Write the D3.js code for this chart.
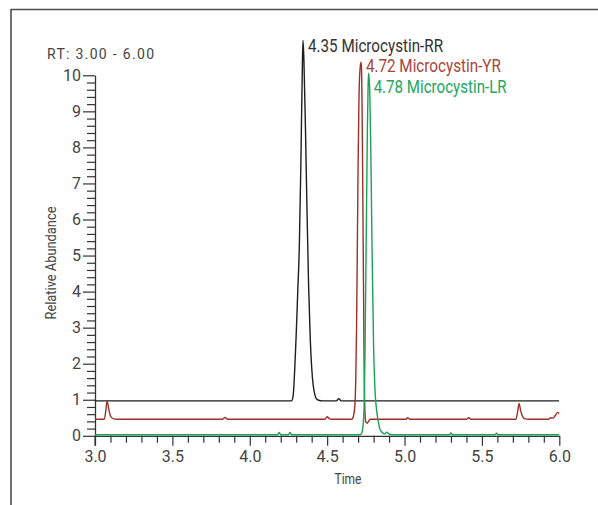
<!DOCTYPE html>
<html><head><meta charset="utf-8">
<script src="https://cdn.jsdelivr.net/npm/d3@7/dist/d3.min.js"></script>
<style>
html,body{margin:0;padding:0;background:#fff;}
svg{display:block;}
text{font-family:Roboto,"Liberation Sans",sans-serif;}
</style></head>
<body>
<svg id="chart" width="598" height="505"></svg>
<script>
// ---- data (time in min, relative abundance with display offsets) ----
const blackTrace = [
  [3.00,0.97],[4.27,0.97],[4.28,1.1],[4.29,1.8],[4.30,2.8],[4.31,4.0],[4.32,5.2],[4.33,7.5],
  [4.34,10.3],[4.344,10.97],[4.35,10.4],[4.36,8.5],[4.37,6.2],[4.38,4.2],[4.39,2.8],[4.40,1.9],
  [4.41,1.4],[4.42,1.15],[4.43,1.03],[4.45,0.98],[4.47,0.97],[4.56,0.97],[4.575,1.03],[4.59,0.97],
  [6.00,0.97]
];
const redTrace = [
  [3.00,0.46],[3.06,0.46],[3.07,0.7],[3.078,0.97],[3.09,0.72],[3.10,0.55],[3.12,0.47],[3.14,0.46],
  [3.825,0.46],[3.84,0.51],[3.855,0.46],[4.485,0.46],[4.50,0.53],[4.515,0.47],[4.53,0.46],
  [4.66,0.46],[4.67,0.55],[4.68,0.9],[4.685,1.6],[4.69,3.0],[4.695,5.2],[4.70,7.5],[4.705,9.2],
  [4.71,10.0],[4.718,10.36],[4.722,10.2],[4.726,9.0],[4.73,7.0],[4.733,5.2],[4.737,3.0],[4.74,1.5],
  [4.745,0.6],[4.75,0.38],[4.76,0.35],[4.77,0.42],[4.78,0.46],
  [5.01,0.46],[5.02,0.5],[5.035,0.46],[5.40,0.46],[5.415,0.5],[5.43,0.46],
  [5.72,0.46],[5.73,0.65],[5.74,0.9],[5.75,0.7],[5.765,0.52],[5.78,0.47],[5.80,0.46],
  [5.93,0.46],[5.945,0.5],[5.96,0.49],[5.975,0.57],[5.99,0.65],[6.00,0.6]
];
const greenTrace = [
  [3.00,0.03],[4.18,0.03],[4.19,0.09],[4.20,0.03],[4.25,0.03],[4.26,0.09],[4.27,0.03],
  [4.71,0.03],[4.72,0.05],[4.73,0.2],[4.74,1.0],[4.745,2.5],[4.75,4.5],[4.755,6.5],[4.76,8.5],
  [4.765,9.8],[4.768,10.06],[4.775,9.6],[4.78,8.5],[4.785,7.0],[4.79,5.2],[4.80,2.5],[4.81,1.2],
  [4.82,0.7],[4.83,0.4],[4.84,0.2],[4.85,0.12],[4.86,0.08],[4.87,0.05],[4.885,0.1],[4.90,0.05],
  [4.92,0.03],[5.29,0.03],[5.30,0.08],[5.31,0.03],[5.585,0.03],[5.595,0.07],[5.605,0.03],[6.00,0.03]
];
const xMajorTicks = [3.0,3.5,4.0,4.5,5.0,5.5,6.0];
const yMajorTicks = [0,1,2,3,4,5,6,7,8,9,10];
const peakLabels = ["4.35 Microcystin-RR","4.72 Microcystin-YR","4.78 Microcystin-LR"];
const peakTimes = [4.344,4.718,4.768];
const rangeLabel = "RT: 3.00 - 6.00";
const xTitle = "Time";
const yTitle = "Relative Abundance";

const colors = {black:"#1e1e1e", red:"#9c2f27", green:"#1aa157"};
const labelColors = ["#333333","#a8453b","#22a65e"];

const svg = d3.select("#chart");
const x = d3.scaleLinear().domain([3,6]).range([95,559.3]);
const y = d3.scaleLinear().domain([0,10]).range([435.8,75.3]);

// frame
svg.append("line").attr("x1",11).attr("x2",598).attr("y1",9.5).attr("y2",9.5)
  .attr("stroke","#4d4d4d").attr("stroke-width",1.6);
svg.append("line").attr("x1",11).attr("x2",11).attr("y1",9).attr("y2",505)
  .attr("stroke","#4d4d4d").attr("stroke-width",1.6);

const axisColor = "#333";
const xMinor = d3.range(30,61).map(d=>d/10).filter(d=>Math.abs(d*2-Math.round(d*2))>1e-6);
const gxMinor = svg.append("g").attr("transform",`translate(0,${y(0)})`)
  .call(d3.axisBottom(x).tickValues(xMinor).tickSize(7).tickFormat(""));
const gx = svg.append("g").attr("transform",`translate(0,${y(0)})`)
  .call(d3.axisBottom(x).tickValues(xMajorTicks).tickSize(10).tickSizeOuter(0).tickPadding(5).tickFormat(d3.format(".1f")));
const yMinor = d3.range(0,101,2).map(d=>d/10).filter(d=>Math.abs(d-Math.round(d))>1e-6);
const gyMinor = svg.append("g").attr("transform",`translate(${x(3)},0)`)
  .call(d3.axisLeft(y).tickValues(yMinor).tickSize(8).tickFormat(""));
const gy = svg.append("g").attr("transform",`translate(${x(3)},0)`)
  .call(d3.axisLeft(y).tickValues(yMajorTicks).tickSize(12).tickSizeOuter(0).tickPadding(2).tickFormat(d3.format("d")));
[gxMinor,gx,gyMinor,gy].forEach(g=>{
  g.attr("font-family",null).attr("font-size",null);
  g.select(".domain").attr("stroke",axisColor).attr("stroke-width",1.3);
  g.selectAll(".tick line").attr("stroke",axisColor).attr("stroke-width",1.2);
  g.selectAll(".tick text").attr("fill","#444").attr("font-size","16px");
});
gxMinor.select(".domain").remove();
gyMinor.select(".domain").remove();
svg.append("line").attr("x1",x(3)).attr("x2",x(3)).attr("y1",y(0)).attr("y2",y(0)+10)
  .attr("stroke",axisColor).attr("stroke-width",1.2);

// traces
const line = d3.line().x(d=>x(d[0])).y(d=>y(d[1])).curve(d3.curveMonotoneX);
svg.append("clipPath").attr("id","plotclip").append("rect")
  .attr("x",x(3)).attr("y",20).attr("width",x(6)-x(3)).attr("height",y(0)+2-20);
[[blackTrace,colors.black],[redTrace,colors.red],[greenTrace,colors.green]].forEach(([data,c])=>{
  svg.append("path").datum(data).attr("d",line).attr("fill","none")
    .attr("stroke",c).attr("stroke-width",1.4).attr("stroke-linejoin","round")
    .attr("clip-path","url(#plotclip)");
});

// peak labels
peakLabels.forEach((t,i)=>{
  svg.append("text").attr("x",x(peakTimes[i])+5).attr("y",[51.7,72.3,93.3][i])
    .attr("fill",labelColors[i]).attr("font-size","18px")
    .attr("textLength",[135,135,133][i]).attr("lengthAdjust","spacingAndGlyphs").text(t);
});

// range label
svg.append("text").attr("x",47).attr("y",58.5).attr("fill","#444").attr("font-size","14px")
  .attr("textLength",107).attr("lengthAdjust","spacing").text(rangeLabel);

// axis titles
svg.append("text").attr("x",348).attr("y",484).attr("text-anchor","middle")
  .attr("fill","#444").attr("font-size","15px").attr("textLength",27).attr("lengthAdjust","spacingAndGlyphs").text(xTitle);
svg.append("text").attr("transform","translate(56,263) rotate(-90)").attr("text-anchor","middle")
  .attr("fill","#444").attr("font-size","15px").attr("textLength",113).attr("lengthAdjust","spacingAndGlyphs").text(yTitle);
</script>
</body></html>
